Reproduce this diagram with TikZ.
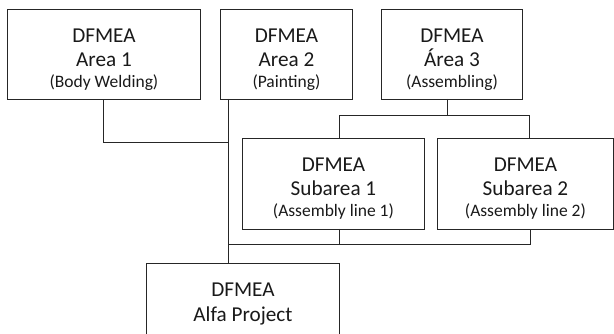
\documentclass[tikz,border=0pt]{standalone}
\usepackage{fontspec}
\setmainfont{Carlito}
\newcommand{\thirdline}[1]{\\[-3.6pt]{\fontsize{17.5}{21}\selectfont #1}}
\begin{document}
\begin{tikzpicture}[x=1pt,y=1pt,
  box/.style={draw=black!85, line width=0.9pt, anchor=north west, inner sep=0pt},
  lbl/.style={anchor=north, inner sep=0pt, align=center,
    font=\fontsize{21.2}{24.3}\selectfont, text=black!90, yshift=-18.3pt},
  conn/.style={draw=black!85, line width=1pt}]
\useasboundingbox (0,0) rectangle (614,-334);
\begin{scope}
\clip (0,0) rectangle (614,-334);
\node[box, minimum width=193pt, minimum height=90pt] (a1) at (7,-9) {};
\node[box, minimum width=132pt, minimum height=90pt] (a2) at (220,-9) {};
\node[box, minimum width=141pt, minimum height=90pt] (a3) at (381,-9) {};
\node[box, minimum width=182pt, minimum height=91pt] (s1) at (242,-138) {};
\node[box, minimum width=176pt, minimum height=91pt] (s2) at (437,-138) {};
\node[box, minimum width=193pt, minimum height=90pt] (alfa) at (146,-263) {};
\end{scope}
\node[lbl] (a1t) at (a1.north) {\rule{0pt}{15pt}DFMEA\\Area 1\thirdline{(Body Welding)}};
\node[lbl] (a2t) at (a2.north) {\rule{0pt}{15pt}DFMEA\\Area 2\thirdline{(Painting)}};
\node[lbl] (a3t) at (a3.north) {\rule{0pt}{15pt}DFMEA\\Área 3\thirdline{(Assembling)}};
\node[lbl] (s1t) at (s1.north) {\rule{0pt}{15pt}DFMEA\\Subarea 1\thirdline{(Assembly line 1)}};
\node[lbl] (s2t) at (s2.north) {\rule{0pt}{15pt}DFMEA\\Subarea 2\thirdline{(Assembly line 2)}};
\node[lbl, yshift=0.4pt] (alfat) at (alfa.north) {\rule{0pt}{15pt}DFMEA\\[0.7pt]Alfa Project};
% junctions
\coordinate (j1) at (228,-143);
\coordinate (a2b) at (228,-99);
\coordinate (a3b) at (447,-99);
\coordinate (h3) at (447,-116);
\coordinate (h3l) at (339,-116);
\coordinate (h3r) at (529,-116);
\coordinate (s1b) at (339,-229);
\coordinate (s2b) at (530,-229);
\coordinate (hb) at (228,-245);
\coordinate (hbr) at (530,-245);
% connectors
\draw[conn] (a1.south) |- (j1);
\draw[conn] (a2b) -- (a2b |- alfa.north);
\draw[conn] (a3b) -- (h3);
\draw[conn] (h3l |- s1.north) |- (h3r) -- (h3r |- s2.north);
\draw[conn] (s1b) -- (s1b |- hb);
\draw[conn] (hb) -- (hbr) -- (s2b);
\end{tikzpicture}
\end{document}
